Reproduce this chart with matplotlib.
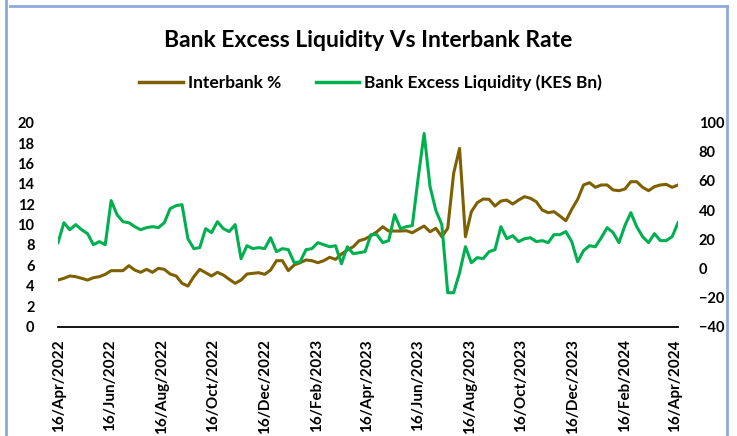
import matplotlib
matplotlib.use('Agg')
from matplotlib import pyplot as plt
import matplotlib.dates as mdates
from matplotlib.lines import Line2D
import numpy as np
import pandas as pd

plt.rcParams['font.family'] = ['Lato', 'DejaVu Sans']

# weekly readings, first week ending mid April 2022
interbank = [4.56, 4.73, 4.96, 4.89, 4.73, 4.56, 4.79, 4.89, 5.12, 5.48,
             5.48, 5.48, 5.97, 5.54, 5.32, 5.61, 5.32, 5.71, 5.61, 5.15,
             4.96, 4.24, 3.97, 4.89, 5.61, 5.28, 4.96, 5.32, 5.05, 4.63,
             4.24, 4.56, 5.15, 5.22, 5.28, 5.12, 5.54, 6.46, 6.46, 5.48,
             6.04, 6.26, 6.53, 6.46, 6.26, 6.46, 6.79, 6.59, 7.11, 7.51,
             7.83, 8.42, 8.59, 8.91, 9.30, 9.79, 9.37, 9.37, 9.37, 9.40,
             9.20, 9.54, 9.86, 9.30, 9.64, 8.81, 9.64, 15.03, 17.48, 8.81,
             11.27, 12.15, 12.51, 12.48, 11.82, 12.31, 12.41, 12.02, 12.41, 12.74,
             12.58, 12.24, 11.43, 11.17, 11.27, 10.84, 10.38, 11.50, 12.48, 13.89,
             14.11, 13.66, 13.89, 13.89, 13.40, 13.33, 13.49, 14.21, 14.21, 13.66,
             13.33, 13.72, 13.89, 13.95, 13.66, 13.89]

excess_liq = [17.6, 31.3, 26.5, 30.0, 26.5, 23.8, 16.2, 18.3, 16.2, 46.5,
              36.8, 32.0, 31.3, 28.6, 26.5, 27.9, 28.6, 27.9, 31.3, 41.0,
              43.0, 43.7, 20.3, 13.5, 14.2, 27.2, 24.5, 32.0, 27.2, 25.2,
              30.0, 6.6, 15.5, 13.5, 14.2, 13.5, 21.0, 11.4, 13.5, 12.8,
              3.8, 4.5, 12.8, 13.5, 17.6, 16.2, 14.8, 15.5, 3.1, 14.8,
              10.0, 10.7, 11.4, 23.1, 23.1, 17.6, 19.0, 36.8, 27.2, 28.6,
              29.3, 62.3, 92.6, 56.1, 39.6, 30.0, -16.8, -16.8, -3.1, 14.8,
              3.8, 7.3, 6.6, 11.4, 12.8, 28.6, 20.3, 22.4, 18.3, 20.3,
              21.0, 18.3, 19.0, 17.6, 23.1, 23.1, 25.2, 18.3, 4.5, 12.1,
              15.5, 14.8, 21.0, 27.9, 24.5, 17.6, 29.3, 38.2, 28.6, 21.7,
              17.6, 23.8, 19.0, 19.0, 21.7, 31.3]

dates = pd.date_range('2022-04-15', periods=len(interbank), freq='7D')
tick_dates = pd.date_range('2022-04-01', '2024-04-01', freq='2MS') + pd.Timedelta(days=15)

brown = '#7F6000'
green = '#00B050'

fig = plt.figure(figsize=(7.37, 4.36), dpi=100)
ax = fig.add_axes([0.0787, 0.2511, 0.8413, 0.4675])
ax2 = ax.twinx()

ax.plot(dates, interbank, color=brown, lw=2.2, solid_joinstyle='round')
ax2.plot(dates, excess_liq, color=green, lw=2.2, solid_joinstyle='round')

ax.set_ylim(0, 20)
ax.set_yticks(np.arange(0, 21, 2))
ax2.set_ylim(-40, 100)
ax2.set_yticks(np.arange(-40, 101, 20))
ax.set_xlim(dates[0], dates[-1])
ax.set_xticks(tick_dates)
ax.xaxis.set_major_formatter(mdates.DateFormatter('%d/%b/%Y'))

for a in (ax, ax2):
    for s in ('top', 'left', 'right', 'bottom'):
        a.spines[s].set_visible(False)
ax.spines['bottom'].set_visible(True)
ax.spines['bottom'].set_linewidth(1.3)
ax.spines['bottom'].set_color('black')

ax.tick_params(axis='x', length=0, pad=9, labelsize=11, rotation=90)
ax.tick_params(axis='y', length=0, pad=17, labelsize=10.5)
ax2.tick_params(axis='y', length=0, pad=15, labelsize=10.5)
for lab in ax.get_xticklabels() + ax.get_yticklabels() + ax2.get_yticklabels():
    lab.set_fontweight('bold')

fig.text(0.5, 0.908, 'Bank Excess Liquidity Vs Interbank Rate', ha='center', va='center',
         fontsize=16.5, fontweight='bold', color='black')

handles = [Line2D([], [], color=brown, lw=2.5), Line2D([], [], color=green, lw=2.5)]
fig.legend(handles, ['Interbank %', 'Bank Excess Liquidity (KES Bn)'], loc='center',
           bbox_to_anchor=(0.503, 0.81), ncol=2, frameon=False, handlelength=2.5,
           handletextpad=0.3, columnspacing=2.0, prop={'size': 12.5, 'weight': 'bold'})

# chart frame
frame = '#8EA9DB'
fig.add_artist(Line2D([6 / 737, 6 / 737], [0, 1], color=frame, lw=2, transform=fig.transFigure))
fig.add_artist(Line2D([10 / 737, 727 / 737], [1 - 6 / 436, 1 - 6 / 436], color=frame, lw=2,
                      transform=fig.transFigure))
fig.add_artist(Line2D([727 / 737, 727 / 737], [0, 1 - 6 / 436], color=frame, lw=2,
                      transform=fig.transFigure))

fig.savefig('out.png', dpi=100)
